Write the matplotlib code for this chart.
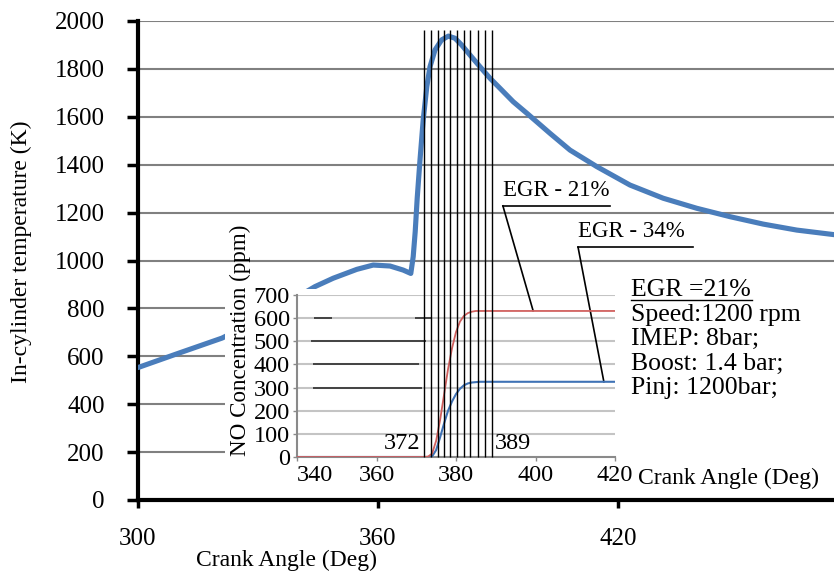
import matplotlib
matplotlib.use('Agg')
import matplotlib.pyplot as plt
from matplotlib.patches import Rectangle
from matplotlib.lines import Line2D

plt.rcParams['font.family'] = ['Liberation Serif', 'DejaVu Serif']

# in-cylinder temperature (main axes)
crank = [300, 310, 321, 330, 337, 344.25, 348.8, 354.7, 358.8, 363, 366.3, 368.2,
         368.8, 369.3, 369.8, 370.5, 371.3, 372.2, 373, 374.25, 375.9, 377.6,
         379.25, 380.9, 383, 385.5, 388, 390.5, 393.8, 397.2, 400.1, 403, 408,
         414.7, 423, 431.3, 439.7, 448, 456.3, 464.7, 474]
temp = [553, 612, 676, 750, 820, 891, 926, 963, 981, 977, 960, 946,
        1016, 1120, 1260, 1420, 1587, 1726, 1809, 1879, 1921, 1937,
        1928, 1900, 1858, 1809, 1761, 1719, 1663, 1615, 1573, 1531, 1461,
        1392, 1315, 1260, 1218, 1183, 1152, 1127, 1108]

# NO concentration (inset)
no_x_21 = [340, 372, 373, 374, 375, 376, 377, 378, 379, 380, 381, 382, 383, 384, 385, 420]
no_21 = [0, 0, 2, 15, 70, 160, 270, 380, 470, 540, 585, 610, 622, 628, 631, 631]
no_x_34 = [340, 373, 374, 375, 376, 377, 378, 379, 380, 381, 382, 383, 384, 386, 420]
no_34 = [0, 0, 3, 30, 85, 145, 200, 240, 272, 295, 310, 318, 322, 325, 325]

# vertical marker lines between 372 and 389 deg
marks = [372, 373.6, 375.5, 377, 378.5, 380.3, 382, 383.6, 385.5, 387.2, 389]

W, H = 834, 574
def fx(p):
    return p / W
def fy(p):
    return 1 - p / H

fig = plt.figure(figsize=(W / 100, H / 100), dpi=100)
fig.patch.set_facecolor('white')

# ---------- main axes ----------
ax = fig.add_axes([fx(138), fy(500), fx(834) - fx(138), fy(21) - fy(500)])
ax.set_zorder(0)
ax.plot(crank, temp, color='#4a7dbb', lw=3.7, solid_capstyle='round',
        solid_joinstyle='round', zorder=3)
ax.set_xlim(300, 474)
ax.set_ylim(0, 2000)
ax.set_xticks([300, 360, 420])
ax.set_yticks(range(0, 2001, 200))
for yv in range(200, 2001, 200):
    ax.axhline(yv, color='#808080', lw=1.5, zorder=1)
for s in ['top', 'right']:
    ax.spines[s].set_visible(False)
for s in ['left', 'bottom']:
    ax.spines[s].set_linewidth(3)
    ax.spines[s].set_color('black')
ax.tick_params(axis='x', direction='out', length=6, width=2.5, pad=14, labelsize=18)
ax.tick_params(axis='y', direction='out', length=8, width=2.5, pad=16, labelsize=18)

fig.text(fx(287), fy(560), 'Crank Angle (Deg)', ha='center', va='center', fontsize=17)
fig.text(fx(21), fy(252), 'In-cylinder temperature (K)', ha='center', va='center',
         rotation=90, fontsize=17)

# white panel behind the inset
fig.add_artist(Rectangle((fx(225), fy(485)), fx(834) - fx(225), fy(289) - fy(485),
                         transform=fig.transFigure, facecolor='white',
                         edgecolor='none', zorder=1))

# ---------- inset ----------
ins = fig.add_axes([fx(297), fy(457), fx(615) - fx(297), fy(295) - fy(457)])
ins.set_zorder(2)
ins.patch.set_alpha(0)
ins.set_xlim(340, 420)
ins.set_ylim(0, 700)
ins.set_xticks([340, 360, 380, 400, 420])
ins.set_yticks(range(0, 701, 100))
for yv in range(100, 701, 100):
    ins.axhline(yv, color='#c4c4c4', lw=1.5, zorder=1)

# darker partial grid segments
seg_y = [300, 400, 500, 600, 600]
seg_x0 = [344, 344, 343.5, 344.3, 369.7]
seg_x1 = [371.5, 370.8, 372.5, 348.8, 374]
ins.hlines(seg_y, seg_x0, seg_x1, color='#202020', lw=1.1, zorder=2)

for s in ['top', 'right']:
    ins.spines[s].set_visible(False)
ins.spines['left'].set_color('#8a8a8a')
ins.spines['bottom'].set_color('#8a8a8a')
ins.spines['left'].set_linewidth(1.5)
ins.spines['bottom'].set_linewidth(1.5)
ins.tick_params(axis='both', direction='out', length=3, width=1, colors='#8a8a8a',
                labelcolor='black', labelsize=17.5)
ins.tick_params(axis='y', pad=2)
ins.tick_params(axis='x', pad=3)
ins.get_xticklabels()[0].set_horizontalalignment('left')
for lab in ins.get_xticklabels()[:1]:
    lab.set_x(340)

ins.plot(no_x_34, no_34, color='#3f72b5', lw=1.5, zorder=4)
ins.plot(no_x_21, no_21, color='#d0605e', lw=1.3, zorder=4)
ins.vlines(marks, 0, 1845, color='black', lw=1.0, zorder=5, clip_on=False)

ins.text(371, 12, '372', ha='right', va='bottom', fontsize=17.5)
ins.text(389.8, 12, '389', ha='left', va='bottom', fontsize=17.5)

# callouts
ins.plot([391.8, 418.7], [1085, 1085], color='black', lw=1.2, clip_on=False)
ins.plot([391.8, 399.4], [1085, 632], color='black', lw=1.2, clip_on=False)
ins.text(391.8, 1105, 'EGR - 21%', ha='left', va='bottom', fontsize=16.5)
ins.plot([410.7, 439.6], [907, 907], color='black', lw=1.2, clip_on=False)
ins.plot([410.7, 417.2], [907, 325], color='black', lw=1.2, clip_on=False)
ins.text(410.7, 927, 'EGR - 34%', ha='left', va='bottom', fontsize=16.5)

fig.text(fx(240), fy(340), 'NO Concentration (ppm)', ha='center', va='center',
         rotation=90, fontsize=16.6)
fig.text(fx(638), fy(478), 'Crank Angle (Deg)', ha='left', va='center', fontsize=17)

# operating conditions
cond = ['EGR =21%', 'Speed:1200 rpm', 'IMEP: 8bar;', 'Boost: 1.4 bar;', 'Pinj: 1200bar;']
for i, t in enumerate(cond):
    fig.text(fx(631), fy(290 + 24.5 * i), t, ha='left', va='center', fontsize=18.5)
fig.add_artist(Line2D([fx(631), fx(752)], [fy(300), fy(300)], color='black', lw=1.0))

plt.savefig('out.png', dpi=100)
plt.close()
